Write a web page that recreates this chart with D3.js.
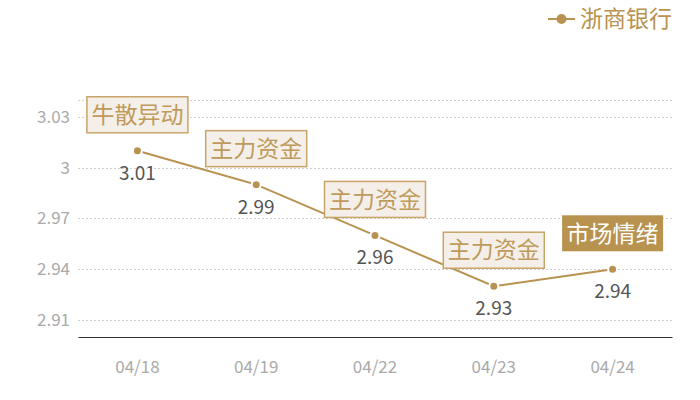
<!DOCTYPE html>
<html>
<head>
<meta charset="utf-8">
<script src="https://cdn.jsdelivr.net/npm/d3@7"></script>
<style>
  body { margin: 0; background: #fff; }
  svg { display: block; font-family: "Noto Sans CJK SC", "Noto Sans", sans-serif; }
</style>
</head>
<body>
<div id="chart"></div>
<script>
// --- data ---
const dates = ["04/18", "04/19", "04/22", "04/23", "04/24"];
const values = [3.01, 2.99, 2.96, 2.93, 2.94];
const tags = ["牛散异动", "主力资金", "主力资金", "主力资金", "市场情绪"];
const tagFilled = [false, false, false, false, true];
const yTicks = [2.91, 2.94, 2.97, 3.00, 3.03];
const yMin = 2.90, yMax = 3.04;
const seriesName = "浙商银行";

const width = 700, height = 400;
const gold = "#b8924f";
const margin = { left: 78, right: 28, top: 100, bottom: 63 };

const svg = d3.select("#chart").append("svg")
    .attr("width", width)
    .attr("height", height);

// --- scales ---
const x = d3.scaleBand()
    .domain(dates)
    .range([margin.left, width - margin.right]);
const y = d3.scaleLinear()
    .domain([yMin, yMax])
    .range([height - margin.bottom, margin.top]);

// grid lines (dotted), including the top one
svg.append("g")
    .selectAll("line")
    .data(yTicks.concat([yMax]))
    .join("line")
    .attr("x1", margin.left)
    .attr("x2", width - margin.right)
    .attr("y1", d => Math.round(y(d)) + 0.5)
    .attr("y2", d => Math.round(y(d)) + 0.5)
    .attr("stroke", "#cfcfcf")
    .attr("stroke-dasharray", "2,2");

// y labels
svg.append("g")
    .selectAll("text")
    .data(yTicks)
    .join("text")
    .attr("x", 70)
    .attr("y", d => y(d))
    .attr("dy", "0.35em")
    .attr("text-anchor", "end")
    .attr("font-size", 17)
    .attr("fill", "#aaaaaa")
    .text(d => d3.format("~g")(d));

// x axis
const xAxis = d3.axisBottom(x).tickSize(0).tickPadding(24);
const gx = svg.append("g")
    .attr("transform", `translate(0,${height - margin.bottom})`)
    .call(xAxis);
gx.select(".domain").attr("stroke", "#333").attr("stroke-width", 1.2);
gx.selectAll("text")
    .attr("font-size", 17)
    .attr("fill", "#aaaaaa")
    .attr("font-family", "\"Noto Sans CJK SC\", sans-serif");

const cx = (d, i) => x(dates[i]) + x.bandwidth() / 2;

// line
const line = d3.line()
    .x((d, i) => cx(d, i))
    .y(d => y(d));
svg.append("path")
    .datum(values)
    .attr("d", line)
    .attr("fill", "none")
    .attr("stroke", gold)
    .attr("stroke-width", 2);

// points
svg.append("g")
    .selectAll("circle")
    .data(values)
    .join("circle")
    .attr("cx", cx)
    .attr("cy", d => y(d))
    .attr("r", 4.5)
    .attr("fill", gold)
    .attr("stroke", "#fff")
    .attr("stroke-width", 2);

// value labels
svg.append("g")
    .selectAll("text")
    .data(values)
    .join("text")
    .attr("x", cx)
    .attr("y", d => y(d) + 29)
    .attr("text-anchor", "middle")
    .attr("font-size", 19)
    .attr("fill", "#555")
    .text(d => d.toFixed(2));

// annotation tags
const tagW = 101, tagH = 36;
const tg = svg.append("g")
    .selectAll("g")
    .data(tags)
    .join("g")
    .attr("transform", (d, i) => `translate(${cx(null, i) - tagW / 2},${y(values[i]) - 18 - tagH})`);
tg.append("rect")
    .attr("width", tagW)
    .attr("height", tagH)
    .attr("fill", (d, i) => tagFilled[i] ? gold : "#f4f0e9")
    .attr("stroke", (d, i) => tagFilled[i] ? "none" : "#c9a468")
    .attr("stroke-width", 1.5);
tg.append("text")
    .attr("x", tagW / 2)
    .attr("y", tagH / 2)
    .attr("dy", "0.36em")
    .attr("text-anchor", "middle")
    .attr("font-size", 23)
    .attr("fill", (d, i) => tagFilled[i] ? "#fff" : "#bf9a5c")
    .text(d => d);

// legend
const lg = svg.append("g").attr("transform", "translate(548,19)");
lg.append("line")
    .attr("x1", 0).attr("x2", 27)
    .attr("stroke", gold).attr("stroke-width", 2);
lg.append("circle")
    .attr("cx", 13.5).attr("r", 5)
    .attr("fill", gold);
lg.append("text")
    .attr("x", 32)
    .attr("dy", "0.36em")
    .attr("font-size", 23)
    .attr("fill", gold)
    .text(seriesName);
</script>
</body>
</html>
